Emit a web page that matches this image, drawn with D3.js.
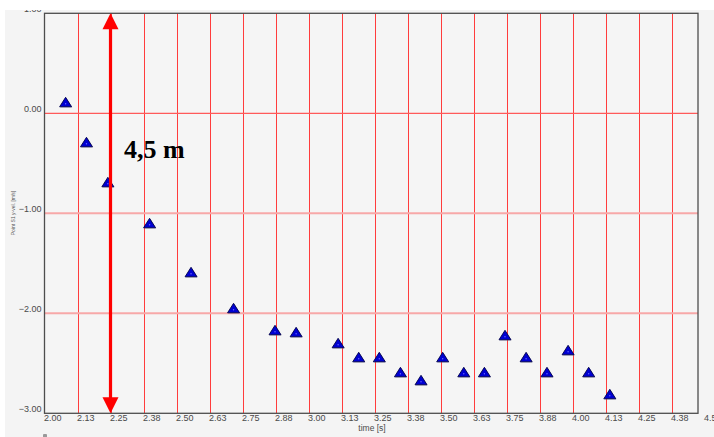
<!DOCTYPE html>
<html>
<head>
<meta charset="utf-8">
<script src="https://cdn.jsdelivr.net/npm/d3@7/dist/d3.min.js"></script>
<style>
  html, body { margin: 0; padding: 0; background: #ffffff; }
  svg { display: block; font-family: "Liberation Sans", Arial, sans-serif; }
</style>
</head>
<body>
<script>
// Measured vertical velocity of point S1 over time
const times = [2.080, 2.159, 2.240, 2.398, 2.555, 2.716, 2.873, 2.953, 3.112, 3.190, 3.268,
               3.348, 3.426, 3.508, 3.588, 3.666, 3.744, 3.824, 3.903, 3.983, 4.061, 4.141];
const yVel  = [0.11, -0.29, -0.69, -1.10, -1.59, -1.95, -2.17, -2.19, -2.30, -2.44, -2.44,
               -2.59, -2.67, -2.44, -2.59, -2.59, -2.22, -2.44, -2.59, -2.37, -2.59, -2.81];

// Axis ticks
const xTicks = [2.0, 2.125, 2.25, 2.375, 2.5, 2.625, 2.75, 2.875, 3.0, 3.125, 3.25, 3.375,
                3.5, 3.625, 3.75, 3.875, 4.0, 4.125, 4.25, 4.375, 4.5];
const yTicks = [1, 0, -1, -2, -3];

// Height marker drawn across the full y range at t = 2.25
const markerTime = 2.25;
const markerRange = [1, -3];
const markerLabel = "4,5 m";

const xTitle = "time [s]";
const yTitle = "Point S1 y-vel. [m/s]";

const W = 714, H = 437;
const plot = { left: 44.5, right: 698, top: 13.3, bottom: 413.3 };

const x = d3.scaleLinear().domain([2, 4.475]).range([plot.left, plot.right]);
const y = d3.scaleLinear().domain([-3, 1]).range([plot.bottom, plot.top]);
const fmt = d3.format(".2f");

const svg = d3.select("body").append("svg").attr("width", W).attr("height", H);

// Panel background
svg.append("rect").attr("x", 5).attr("y", 10).attr("width", W - 5).attr("height", H - 10)
  .attr("fill", "#f4f4f4");

const panel = svg.append("g");
panel.append("defs").append("clipPath").attr("id", "panelClip")
  .append("rect").attr("x", 5).attr("y", 10).attr("width", W - 5).attr("height", H - 10);
const g = panel.append("g").attr("clip-path", "url(#panelClip)");

// Plot area
g.append("rect")
  .attr("x", plot.left).attr("y", plot.top)
  .attr("width", plot.right - plot.left).attr("height", plot.bottom - plot.top)
  .attr("fill", "#f5f5f5");

// Vertical grid lines
g.append("g").selectAll("line")
  .data(xTicks.filter(t => t > 2 && x(t) < plot.right - 1))
  .join("line")
  .attr("x1", d => Math.round(x(d)) + 0.5).attr("x2", d => Math.round(x(d)) + 0.5)
  .attr("y1", plot.top).attr("y2", plot.bottom)
  .attr("stroke", "#ff3c3c").attr("stroke-width", 1);

// Horizontal grid lines
g.append("g").selectAll("line")
  .data(yTicks.filter(v => v < 1 && v > -3))
  .join("line")
  .attr("x1", plot.left).attr("x2", plot.right)
  .attr("y1", d => y(d)).attr("y2", d => y(d))
  .attr("stroke", d => d === 0 ? "#ff5a5a" : "#f7a8a8")
  .attr("stroke-width", d => d === 0 ? 1.2 : 2);

// Frame
g.append("rect")
  .attr("x", plot.left).attr("y", plot.top)
  .attr("width", plot.right - plot.left).attr("height", plot.bottom - plot.top)
  .attr("fill", "none").attr("stroke", "#4d4d4d").attr("stroke-width", 1.3);

// Y tick labels
g.append("g").selectAll("text")
  .data(yTicks)
  .join("text")
  .attr("x", 41.5).attr("y", d => y(d) - 1.2)
  .attr("text-anchor", "end")
  .attr("font-size", 9).attr("fill", "#4a4a4a")
  .text(d => fmt(d));

// X tick labels (left aligned at the tick)
g.append("g").selectAll("text")
  .data(xTicks)
  .join("text")
  .attr("x", d => x(d) - 0.5).attr("y", 421)
  .attr("font-size", 9).attr("fill", "#4a4a4a")
  .text(d => fmt(d));

// Axis titles
g.append("text")
  .attr("x", 372).attr("y", 430.5).attr("text-anchor", "middle")
  .attr("font-size", 8.5).attr("fill", "#4a4a4a")
  .text(xTitle);

g.append("text")
  .attr("transform", "translate(15,213) rotate(-90)")
  .attr("text-anchor", "middle")
  .attr("font-size", 5).attr("fill", "#555")
  .text(yTitle);

// Cursor readout strip (bottom edge)
g.append("rect").attr("x", 43).attr("y", 434).attr("width", 4).attr("height", 6)
  .attr("rx", 1).attr("fill", "#999");
g.append("text").attr("x", 53).attr("y", 443).attr("font-size", 9).attr("fill", "#777").text("X:");
g.append("text").attr("x", 97).attr("y", 443).attr("font-size", 9).attr("fill", "#777").text("Y:");

// Data points as triangles
const tri = "M0,-5 L6,4.5 L-6,4.5 Z";
const pts = g.append("g").selectAll("g")
  .data(times.map((t, i) => ({ t, v: yVel[i] })))
  .join("g")
  .attr("transform", d => `translate(${x(d.t)},${y(d.v)})`);
pts.append("path").attr("d", tri).attr("transform", "translate(0.7,0.7)")
  .attr("fill", "#9a9aa8").attr("opacity", 0.6);
pts.append("path").attr("d", tri)
  .attr("fill", "#0000d2").attr("stroke", "#00004a").attr("stroke-width", 0.9)
  .attr("stroke-linejoin", "round");
pts.append("circle").attr("cx", 0).attr("cy", 1.5).attr("r", 0.7).attr("fill", "#6a6aff");

// Height marker arrow
const ax = x(markerTime);
const yTop = y(markerRange[0]), yBot = y(markerRange[1]);
const headH = 16, headW = 8;
g.append("line")
  .attr("x1", ax).attr("x2", ax)
  .attr("y1", yTop + headH - 1).attr("y2", yBot - headH + 1)
  .attr("stroke", "#ff0000").attr("stroke-width", 3.2);
g.append("path")
  .attr("d", `M${ax},${yTop} L${ax + headW},${yTop + headH} L${ax - headW},${yTop + headH} Z`)
  .attr("fill", "#ff0000");
g.append("path")
  .attr("d", `M${ax},${yBot} L${ax + headW},${yBot - headH} L${ax - headW},${yBot - headH} Z`)
  .attr("fill", "#ff0000");

g.append("text")
  .attr("x", 124).attr("y", 157.5)
  .style("font-family", "'Liberation Serif', 'Times New Roman', serif")
  .style("font-weight", "bold").style("font-size", "26px").attr("fill", "#000")
  .text(markerLabel);
</script>
</body>
</html>
